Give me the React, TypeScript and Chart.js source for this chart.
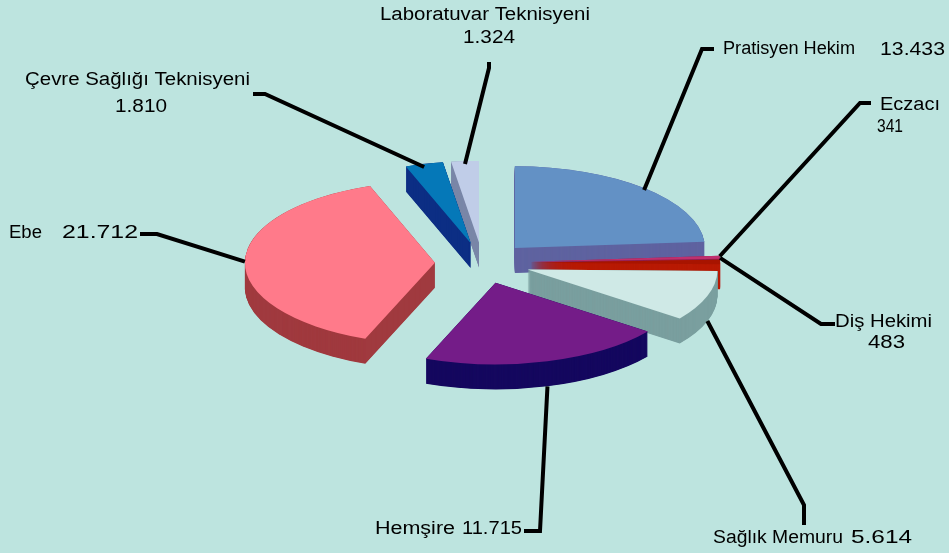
import React, { useEffect, useRef } from "react";
import { Chart, registerables } from "chart.js";

Chart.register(...registerables);

const categories = ["Pratisyen Hekim", "Eczacı", "Diş Hekimi", "Sağlık Memuru", "Hemşire", "Ebe", "Çevre Sağlığı Teknisyeni", "Laboratuvar Teknisyeni"];
const staff = [13433, 341, 483, 5614, 11715, 21712, 1810, 1324];
const topColors = ["#6391c5", "#c0306e", "#a81400", "#cfe9e6", "#741c88", "#ff7a8a", "#0578b8", "#c0cde8"];
const wallColors = ["#5f63a0", "#8e1f50", "#b81a04", "#7a9f9f", "#15085f", "#a03a3f", "#0c2e84", "#7a87a8"];

const W = 949;
const H = 553;
const TILT = 0.43;
const DEPTH = 25;
const EXPLODE = 47.6;
const RADIUS = 190;
const BG = "#bde4df";

type TextPart = { s: "name" | "value"; x: number; y: number; w: number };
type Callout = { parts: TextPart[]; path: number[][]; front: boolean; lift?: number };

// Where each callout's text and elbow sit (by slice index); the line's start comes from the slice itself.
const callouts: Callout[] = [
  { parts: [{ s: "name", x: 723, y: 49, w: 132 }, { s: "value", x: 880, y: 50, w: 65 }], path: [[702, 49], [714, 49]], front: false, lift: 2 },
  { parts: [{ s: "name", x: 880, y: 105, w: 60 }, { s: "value", x: 877, y: 127, w: 26 }], path: [[860, 103], [871, 103]], front: false, lift: -1 },
  { parts: [{ s: "name", x: 835, y: 322, w: 97 }, { s: "value", x: 868, y: 343, w: 37 }], path: [[821, 324], [835, 324]], front: false, lift: -4 },
  { parts: [{ s: "name", x: 713, y: 538, w: 130 }, { s: "value", x: 851, y: 538, w: 61 }], path: [[804, 505], [804, 525]], front: true },
  { parts: [{ s: "name", x: 375, y: 529, w: 80 }, { s: "value", x: 462, y: 529, w: 60 }], path: [[540, 531], [524, 531]], front: true },
  { parts: [{ s: "name", x: 9, y: 233, w: 33 }, { s: "value", x: 62, y: 233, w: 76 }], path: [[157, 234], [140, 234]], front: false },
  { parts: [{ s: "name", x: 25, y: 80, w: 225 }, { s: "value", x: 115, y: 107, w: 52 }], path: [[265, 94], [253, 94]], front: false, lift: 3 },
  { parts: [{ s: "name", x: 380, y: 15, w: 210 }, { s: "value", x: 463, y: 38, w: 52 }], path: [[489, 68], [489, 62]], front: false, lift: 3 },
];

const fmt = (n: number) => String(n).replace(/\B(?=(\d{3})+(?!\d))/g, ".");

const pie3d = {
  id: "pie3d",
  beforeDatasetsDraw(chart: any) {
    const ctx: CanvasRenderingContext2D = chart.ctx;
    const arcs = chart.getDatasetMeta(0).data;
    const order = arcs
      .map((_: any, i: number) => i)
      .sort((a: number, b: number) => {
        const ma = (arcs[a].startAngle + arcs[a].endAngle) / 2;
        const mb = (arcs[b].startAngle + arcs[b].endAngle) / 2;
        return Math.sin(ma) - Math.sin(mb);
      });
    const { x: cx, y: cy } = arcs[0];
    ctx.save();
    ctx.translate(cx, cy);
    ctx.scale(1, TILT);
    ctx.translate(-cx, -cy);
    // side walls, back to front
    for (const i of order) {
      const a = arcs[i];
      const mid = (a.startAngle + a.endAngle) / 2;
      const ox = Math.cos(mid) * EXPLODE;
      const oy = Math.sin(mid) * EXPLODE;
      ctx.fillStyle = wallColors[i];
      for (let d = DEPTH; d >= 0; d -= 0.5) {
        ctx.beginPath();
        ctx.moveTo(a.x + ox, a.y + oy + d / TILT);
        ctx.arc(a.x + ox, a.y + oy + d / TILT, a.outerRadius, a.startAngle, a.endAngle);
        ctx.closePath();
        ctx.fill();
      }
    }
    // top faces, drawn by the arc elements
    for (const i of order) {
      const a = arcs[i];
      const mid = (a.startAngle + a.endAngle) / 2;
      ctx.save();
      ctx.translate(Math.cos(mid) * EXPLODE, Math.sin(mid) * EXPLODE);
      a.draw(ctx);
      ctx.restore();
    }
    ctx.restore();
    return false;
  },
  afterDraw(chart: any) {
    const ctx: CanvasRenderingContext2D = chart.ctx;
    const arcs = chart.getDatasetMeta(0).data;
    ctx.save();
    ctx.strokeStyle = "#000";
    ctx.lineWidth = 4;
    ctx.lineJoin = "miter";
    arcs.forEach((a: any, i: number) => {
      const mid = (a.startAngle + a.endAngle) / 2;
      const c = callouts[i];
      const d = EXPLODE + a.outerRadius;
      const sx = a.x + Math.cos(mid) * d;
      const sy = a.y + Math.sin(mid) * d * TILT + (c.front ? DEPTH : 0) + (c.lift || 0);
      ctx.beginPath();
      ctx.moveTo(sx, sy);
      c.path.forEach(([x, y]) => ctx.lineTo(x, y));
      ctx.stroke();
    });
    ctx.fillStyle = "#000";
    ctx.font = "18px 'Liberation Sans'";
    ctx.textBaseline = "middle";
    ctx.textAlign = "left";
    callouts.forEach((c, i) => {
      c.parts.forEach((p) => {
        const text = p.s === "name" ? categories[i] : fmt(staff[i]);
        const w = ctx.measureText(text).width;
        ctx.save();
        ctx.translate(p.x, p.y);
        ctx.scale(p.w / w, 1);
        ctx.fillText(text, 0, 0);
        ctx.restore();
      });
    });
    ctx.restore();
  },
};

export default function App() {
  const ref = useRef<HTMLCanvasElement>(null);
  useEffect(() => {
    const chart = new Chart(ref.current as HTMLCanvasElement, {
      type: "pie",
      data: {
        labels: categories,
        datasets: [
          {
            data: staff,
            backgroundColor: topColors,
            borderWidth: 0,
            radius: RADIUS,
          } as any,
        ],
      },
      options: {
        responsive: false,
        animation: false,
        layout: { padding: { left: 16, bottom: 27 } },
        plugins: { legend: { display: false }, tooltip: { enabled: false }, title: { display: false } },
      },
      plugins: [pie3d as any],
    });
    return () => chart.destroy();
  }, []);
  return (
    <div style={{ position: "fixed", inset: 0, background: BG }}>
      <canvas ref={ref} width={W} height={H} style={{ display: "block" }} />
    </div>
  );
}
